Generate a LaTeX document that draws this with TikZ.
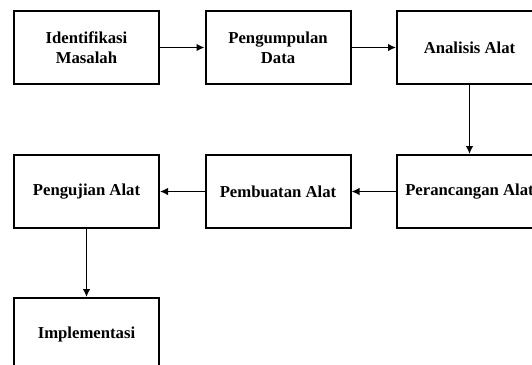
\documentclass[tikz,border=0pt]{standalone}
\usepackage{fontspec}
\setmainfont{Liberation Serif}
\usetikzlibrary{shapes, arrows.meta, calc}

\tikzset{
  stage/.style={draw, line width=2pt, minimum width=145pt, minimum height=73pt,
    inner sep=0pt, align=center, font=\bfseries\fontsize{16.7}{20}\selectfont},
  flow/.style={->, line width=1.3pt}
}

\begin{document}
\begin{tikzpicture}[>={Latex[length=8pt, width=7.5pt]}, x=1pt, y=-1pt]
\clip (0, 0) rectangle (532, 364);
\fill[white] (0, 0) rectangle (532, 364);
\node[stage] at (86.5, 47.5)  (ident) {Identifikasi\\Masalah};
\node[stage] at (278, 47.5)   (kumpul) {Pengumpulan\\Data};
\node[stage] at (469.5, 47.5) (analisis) {Analisis Alat};
\node[stage] at (469.5, 191.5) (rancang) {Perancangan Alat};
\node[stage] at (278, 191.5)  (buat) {Pembuatan Alat};
\node[stage] at (86.5, 191.5) (uji) {Pengujian Alat};
\node[stage] at (86.5, 334.5) (impl) {Implementasi};
\path (ident) edge[flow] (kumpul);
\path (kumpul) edge[flow] (analisis);
\path (analisis) edge[flow] (rancang);
\path (rancang) edge[flow] (buat);
\path (buat) edge[flow] (uji);
\path (uji) edge[flow] (impl);
\end{tikzpicture}
\end{document}
